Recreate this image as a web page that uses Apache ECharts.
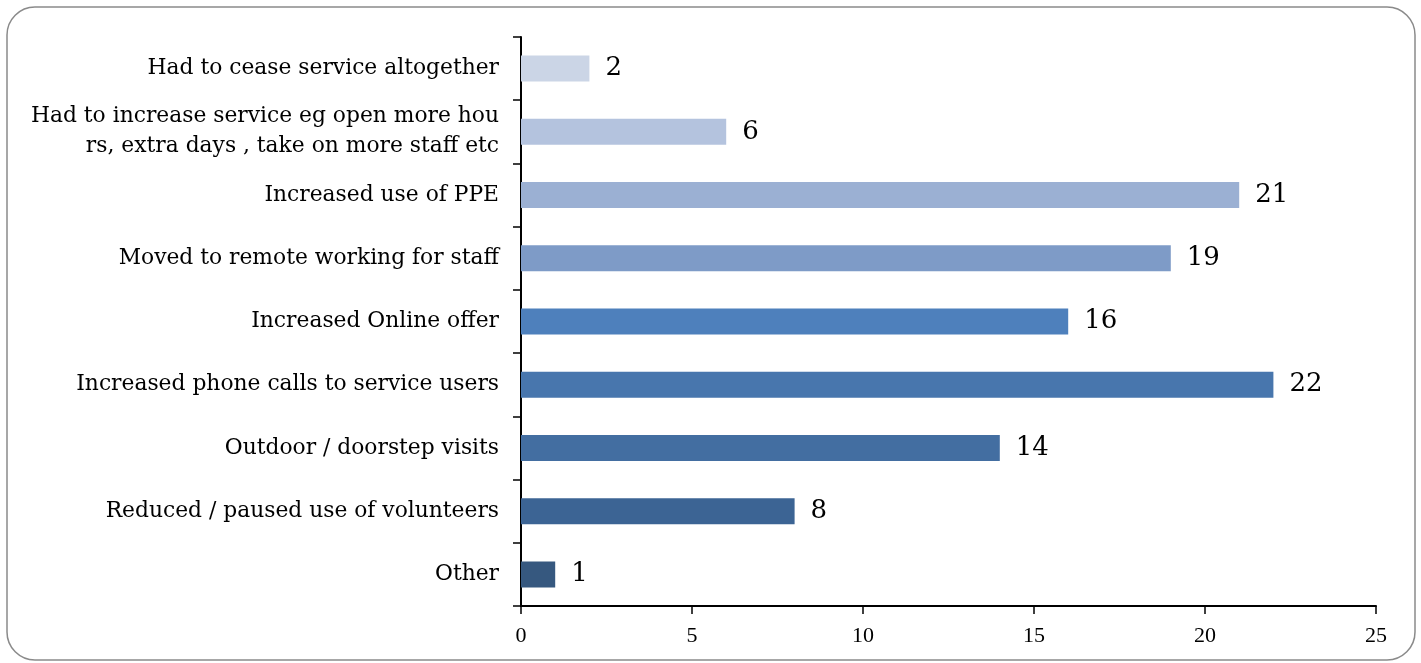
<!DOCTYPE html>
<html>
<head>
<meta charset="utf-8">
<script src="https://cdn.jsdelivr.net/npm/echarts@6/dist/echarts.min.js"></script>
<style>
html,body{margin:0;padding:0;background:#fff;}
#chart{width:1421px;height:663px;}
</style>
</head>
<body>
<div id="chart"></div>
<script>
const categories = [
  "Had to cease service altogether",
  "Had to increase service eg open more hou\nrs, extra days , take on more staff etc",
  "Increased use of PPE",
  "Moved to remote working for staff",
  "Increased Online offer",
  "Increased phone calls to service users",
  "Outdoor / doorstep visits",
  "Reduced / paused use of volunteers",
  "Other"
];
const values = [2, 6, 21, 19, 16, 22, 14, 8, 1];
const barColors = ["#cbd5e6", "#b4c3de", "#9bb0d3", "#7e9bc7", "#4e80bc", "#4876ad", "#436ea1", "#3c6494", "#36587f"];
const xTicks = [0, 5, 10, 15, 20, 25];

const chart = echarts.init(document.getElementById('chart'));
const serif = "'DejaVu Serif', 'Liberation Serif', serif";
chart.setOption({
  animation: false,
  backgroundColor: '#fff',
  graphic: [{
    type: 'rect',
    shape: {x: 7, y: 7, width: 1408, height: 653, r: 28},
    style: {fill: 'none', stroke: '#8a8a8a', lineWidth: 1.5},
    silent: true, z: -1
  }],
  grid: {left: 521, right: 45, top: 37, bottom: 57, containLabel: false},
  xAxis: {
    type: 'value',
    min: xTicks[0], max: xTicks[xTicks.length - 1], interval: 5,
    splitLine: {show: false},
    axisLine: {show: true, lineStyle: {color: '#000', width: 2}},
    axisTick: {show: true, length: 8, lineStyle: {color: '#000', width: 1.5}},
    axisLabel: {color: '#000', fontFamily: "'Liberation Serif', serif", fontSize: 22, margin: 19}
  },
  yAxis: {
    type: 'category',
    inverse: true,
    data: categories,
    axisLine: {show: true, lineStyle: {color: '#000', width: 2}},
    axisTick: {show: true, length: 8, alignWithLabel: false, lineStyle: {color: '#000', width: 1.5}},
    axisLabel: {color: '#000', fontFamily: serif, fontSize: 21.8, margin: 22, lineHeight: 30, align: 'right'}
  },
  series: [{
    type: 'bar',
    data: values.map((v, i) => ({value: v, itemStyle: {color: barColors[i]}})),
    barWidth: 26,
    label: {show: true, position: 'right', distance: 16, color: '#000', fontFamily: serif, fontSize: 26}
  }]
});
</script>
</body>
</html>
